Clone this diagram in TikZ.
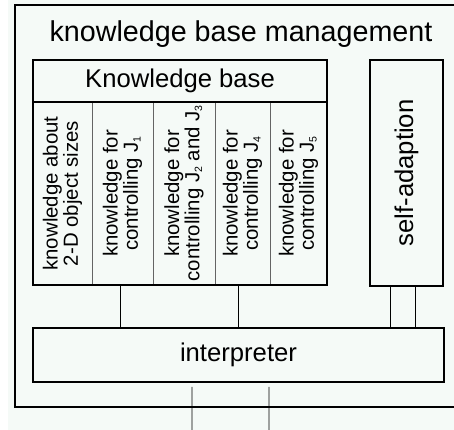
\documentclass[tikz,border=0pt]{standalone}
\usepackage{fontspec}
\setmainfont{Liberation Sans}
\usetikzlibrary{positioning}
\definecolor{paper}{RGB}{245,250,247}
\definecolor{divider}{RGB}{100,100,100}
\newcommand{\jsub}[1]{J\raisebox{-0.25ex}{\fontsize{9}{9}\selectfont #1}}

\begin{document}
\begin{tikzpicture}[x=0.03cm,y=-0.03cm,
        every node/.style={inner sep=0pt},
        box/.style={draw,line width=1.4pt,font=\fontsize{21.9}{24}\selectfont},
        column/.style={draw=divider,line width=0.7pt,rotate=90,align=center,
            minimum width=5.49cm,font=\fontsize{17.4}{16.2}\selectfont},
        wire/.style={line width=0.7pt}
    ]
    \fill[white] (0,0) rectangle (454,430);
    \fill[paper] (8,0) rectangle (454,430);
    \clip (0,0) rectangle (454,430);

    % outer frame
    \node[draw,line width=2.4pt,minimum width=13.65cm,minimum height=12.06cm] (kbm) at (242.5,206) {};
    \node[font=\fontsize{24.5}{28}\selectfont] (title) at (241,34) {knowledge base management};

    % knowledge base
    \node[column,minimum height=1.77cm] (c1) at (62.5,193.5)  {knowledge about\\2-D object sizes};
    \node[column,minimum height=1.83cm] (c2) at (122.5,193.5) {knowledge for\\controlling \jsub{1}};
    \node[column,minimum height=1.86cm] (c3) at (184,193.5)   {knowledge for\\controlling \jsub{2} and \jsub{3}};
    \node[column,minimum height=1.65cm] (c4) at (242.5,193.5) {knowledge for\\controlling \jsub{4}};
    \node[column,minimum height=1.71cm] (c5) at (298.5,193.5) {knowledge for\\controlling \jsub{5}};
    \node[box,minimum width=8.82cm,minimum height=1.26cm] (kbtitle) at (180,81) {Knowledge base};
    \node[box,minimum width=8.82cm,minimum height=6.75cm] (kb) at (180,172.5) {};

    \node[box,rotate=90,minimum width=6.78cm,minimum height=2.19cm] (self) at (406.5,173) {self-adaption};
    \node[box,minimum width=12.33cm,minimum height=1.62cm] (interp) at (238.5,355) {interpreter};

    \coordinate (out1) at (192,430);
    \coordinate (out2) at (269,430);

    \draw[wire] ([xshift=-1.8cm]kb.south) -- ([xshift=-1.8cm]kb.south |- interp.north);
    \draw[wire] ([xshift=1.74cm]kb.south) -- ([xshift=1.74cm]kb.south |- interp.north);
    \draw[wire] ([xshift=-0.495cm]self.west) -- ([xshift=-0.495cm]self.west |- interp.north);
    \draw[wire] ([xshift=0.255cm]self.west) -- ([xshift=0.255cm]self.west |- interp.north);
    \draw[wire,shorten <=0.12cm] ([xshift=-1.395cm]interp.south) -- (out1);
    \draw[wire,shorten <=0.12cm] ([xshift=0.915cm]interp.south) -- (out2);
\end{tikzpicture}
\end{document}
